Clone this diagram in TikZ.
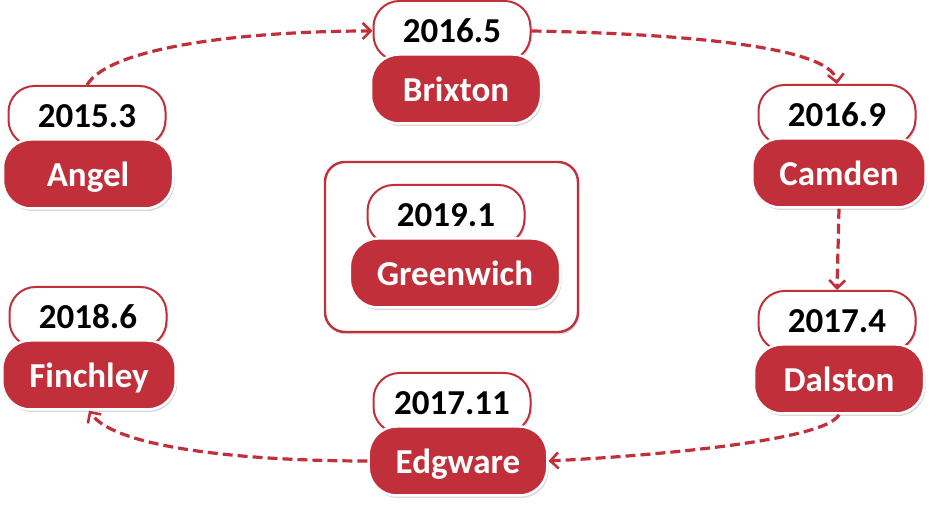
\documentclass[tikz,border=0pt]{standalone}
\usepackage{fontspec}
\setmainfont{Carlito}
\usetikzlibrary{shadows,arrows.meta}
\definecolor{myred}{RGB}{193,48,58}
\tikzset{
  yearbox/.style={rounded corners=26pt, fill=white, draw=myred, line width=2pt,
    minimum width=157pt, minimum height=60pt, inner sep=0pt,
    text height=23pt, text depth=0pt,
    font=\fontsize{35}{40}\selectfont\bfseries, text=black,
    drop shadow={opacity=0.25, shadow xshift=1.5pt, shadow yshift=-2pt}},
  namebox/.style={rounded corners=28pt, fill=myred, draw=white, line width=2.5pt,
    minimum width=170pt, minimum height=69pt, inner xsep=27pt, inner ysep=0pt,
    text height=25pt, text depth=0pt,
    font=\fontsize{35}{40}\selectfont\bfseries, text=white,
    drop shadow={opacity=0.3, shadow xshift=1.5pt, shadow yshift=-2.5pt}},
  outerbox/.style={rounded corners=20pt, fill=white, draw=myred, line width=2.4pt,
    drop shadow={opacity=0.3, shadow xshift=1.5pt, shadow yshift=-2.5pt}},
  flow/.style={draw=myred, line width=3.2pt, dash pattern=on 10pt off 5pt,
    -{Straight Barb[length=8pt,width=16pt,line width=2.6pt]}}
}
\begin{document}
\begin{tikzpicture}[x=1pt,y=1pt]
\useasboundingbox (0,0) rectangle (938,511);
% Greenwich frame
\node[outerbox, minimum width=253pt, minimum height=170pt] (gbox) at (451.5,264) {};
% year labels (drawn first so name boxes cover their lower part)
\node[yearbox] (angelY) at (87,395) {2015.3};
\node[yearbox] (brixY) at (452,480) {2016.5};
\node[yearbox] (camY) at (837,396) {2016.9};
\node[yearbox] (greenY) at (446,296) {2019.1};
\node[yearbox] (finY) at (88,194) {2018.6};
\node[yearbox] (dalY) at (837,190) {2017.4};
\node[yearbox] (edgY) at (452,108) {2017.11};
% name boxes
\node[namebox] (angel) at (88,337) {Angel};
\node[namebox] (brix) at (456,422) {Brixton};
\node[namebox] (cam) at (839,338) {Camden};
\node[namebox] (green) at (455,238) {Greenwich};
\node[namebox] (fin) at (89,136) {Finchley};
\node[namebox] (dal) at (839,132) {Dalston};
\node[namebox] (edg) at (458,50) {Edgware};
% connectors
\draw[flow] (angelY.north) .. controls (110,465) and (250,480) .. (brixY.west);
\draw[flow] (brixY.east) .. controls (650,478) and (832,468) .. (camY.north);
\draw[flow] (cam.south) -- (dalY.north);
\draw[flow] (dal.south) .. controls (825,70) and (650,55) .. (edg.east);
\draw[flow] (edg.west) .. controls (250,50) and (115,62) .. (fin.south);
\end{tikzpicture}
\end{document}
